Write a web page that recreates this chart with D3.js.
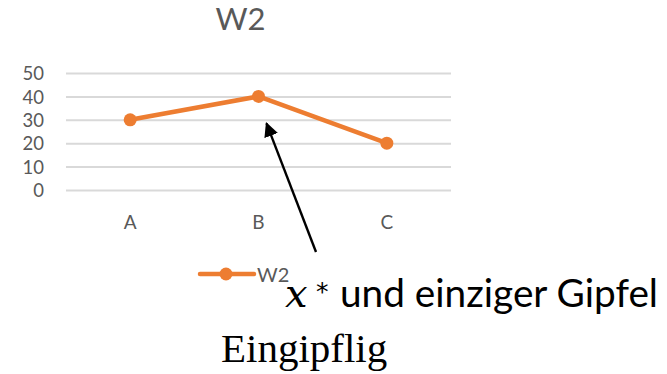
<!DOCTYPE html>
<html><head><meta charset="utf-8">
<script src="https://cdn.jsdelivr.net/npm/d3@7"></script>
<style>
html,body{margin:0;padding:0;background:#fff;}
svg{display:block;}
</style></head>
<body>
<script>
const categories = ["A","B","C"];
const seriesName = "W2";
const values = [30, 40, 20];
const yTicks = [0, 10, 20, 30, 40, 50];
const title = "W2";
const annotation = "und einziger Gipfel";
const caption = "Eingipflig";

const W = 667, H = 374;
const svg = d3.select("body").append("svg").attr("width", W).attr("height", H);
const sans = "Lato, 'Open Sans', sans-serif";
const gray = "#595959";
const orange = "#ED7D31";

const x = d3.scaleBand().domain(categories).range([66, 451]);
const y = d3.scaleLinear().domain([0, 50]).range([190, 73]);

// gridlines + y axis
const yAxis = d3.axisLeft(y).tickValues(yTicks).tickSize(-(451 - 66)).tickPadding(22);
const gy = svg.append("g").attr("transform", "translate(66,0)").call(yAxis);
gy.select(".domain").remove();
gy.selectAll(".tick line").attr("stroke", "#D9D9D9").attr("stroke-width", 2);
gy.selectAll(".tick text").attr("fill", gray).style("font-family", sans).style("font-size", "18.5px").attr("dy", "0.36em");

// x axis labels
const xAxis = d3.axisBottom(x).tickSize(0).tickPadding(0);
const gx = svg.append("g").attr("transform", "translate(0,215)").call(xAxis);
gx.select(".domain").remove();
gx.selectAll(".tick text").attr("fill", gray).style("font-family", sans).style("font-size", "19px").attr("dy", "0.71em");

// title
svg.append("text").attr("x", 240.5).attr("y", 29.5).attr("text-anchor", "middle")
  .attr("fill", gray).style("font-family", sans).style("font-size", "31px").text(title);

// line
const data = categories.map((c, i) => ({c, v: values[i]}));
const line = d3.line().x(d => x(d.c) + x.bandwidth() / 2).y(d => y(d.v));
svg.append("path").datum(data).attr("d", line).attr("fill", "none")
  .attr("stroke", orange).attr("stroke-width", 4.5).attr("stroke-linejoin", "round");
svg.selectAll("circle.pt").data(data).join("circle").attr("class", "pt")
  .attr("cx", d => x(d.c) + x.bandwidth() / 2).attr("cy", d => y(d.v)).attr("r", 6.5).attr("fill", orange);

// legend
const lg = svg.append("g");
lg.append("line").attr("x1", 200).attr("x2", 254).attr("y1", 274).attr("y2", 274)
  .attr("stroke", orange).attr("stroke-width", 4.5).attr("stroke-linecap", "round");
lg.append("circle").attr("cx", 226).attr("cy", 274).attr("r", 6.5).attr("fill", orange);
lg.append("text").attr("x", 257).attr("y", 281.5).attr("fill", gray)
  .style("font-family", sans).style("font-size", "20px").text(seriesName);

// arrow (annotation pointing to peak B)
const defs = svg.append("defs");
defs.append("marker").attr("id", "ah").attr("viewBox", "0 0 10 10").attr("refX", 9).attr("refY", 5)
  .attr("markerWidth", 6).attr("markerHeight", 6).attr("markerUnits", "strokeWidth").attr("orient", "auto")
  .append("path").attr("d", "M0,0 L10,5 L0,10 z").attr("fill", "#000");
const bx = x("B") + x.bandwidth() / 2;
svg.append("line").attr("x1", 316).attr("y1", 252).attr("x2", bx + 8).attr("y2", y(40) + 27)
  .attr("stroke", "#000").attr("stroke-width", 2.4).attr("marker-end", "url(#ah)");

// annotation text
svg.append("text").attr("x", 285).attr("y", 307).attr("fill", "#000")
  .style("font-family", "'DejaVu Serif', serif").style("font-style", "italic")
  .style("font-size", "40px").text("x");
svg.append("text").attr("x", 316).attr("y", 300).attr("fill", "#000")
  .style("font-family", "'DejaVu Sans', sans-serif").style("font-size", "25px").text("*");
svg.append("text").attr("x", 340).attr("y", 306.5).attr("fill", "#000")
  .style("font-family", sans).style("font-size", "39px")
  .attr("textLength", 318).attr("lengthAdjust", "spacingAndGlyphs").text(annotation);

svg.append("text").attr("x", 221).attr("y", 362).attr("fill", "#000")
  .style("font-family", "'Liberation Serif', 'Times New Roman', serif").style("font-size", "41px").text(caption);
</script>
</body></html>
